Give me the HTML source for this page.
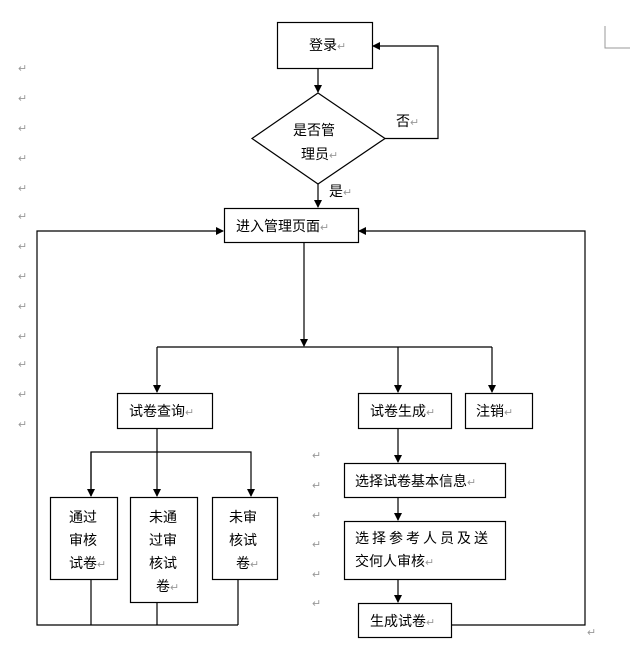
<!DOCTYPE html>
<html><head><meta charset="utf-8"><style>
html,body{margin:0;padding:0;background:#fff;}
svg{display:block;}
text{font-family:"Liberation Sans","Noto Sans CJK SC",sans-serif;font-size:14px;fill:#000;}
.r{fill:#999;font-size:11px;}
</style></head><body>
<svg width="630" height="648" viewBox="0 0 630 648" xmlns="http://www.w3.org/2000/svg">
<defs><marker id="a" markerWidth="8" markerHeight="8" refX="7" refY="4" orient="auto" markerUnits="userSpaceOnUse"><path d="M0,0 L8,4 L0,8 Z" fill="#000"/></marker></defs>
<g stroke="#000" stroke-width="1.2" fill="none">
<rect x="277.5" y="22.5" width="95" height="46"/>
<polygon points="318,93 385,138.5 318,184 252,138.5"/>
<rect x="224.5" y="208.5" width="134" height="34"/>
<rect x="117.5" y="393.5" width="95" height="35"/>
<rect x="358.5" y="393.5" width="93" height="35"/>
<rect x="465.5" y="393.5" width="67" height="35"/>
<rect x="50.5" y="497.5" width="67" height="82"/>
<rect x="130.5" y="497.5" width="67" height="105"/>
<rect x="212.5" y="497.5" width="65" height="82"/>
<rect x="344.5" y="463.5" width="161" height="34"/>
<rect x="344.5" y="521.5" width="161" height="58"/>
<rect x="358.5" y="603.5" width="93" height="34"/>
<line x1="318" y1="68" x2="318" y2="92" marker-end="url(#a)"/>
<polyline points="385,138.5 438,138.5 438,46 373,46" marker-end="url(#a)"/>
<line x1="318" y1="184" x2="318" y2="207" marker-end="url(#a)"/>
<line x1="304" y1="242" x2="304" y2="346" marker-end="url(#a)"/>
<line x1="157" y1="347" x2="492" y2="347"/>
<line x1="157" y1="347" x2="157" y2="392" marker-end="url(#a)"/>
<line x1="398" y1="347" x2="398" y2="392" marker-end="url(#a)"/>
<line x1="492" y1="347" x2="492" y2="392" marker-end="url(#a)"/>
<line x1="157" y1="428" x2="157" y2="496" marker-end="url(#a)"/>
<polyline points="91,496 91,452 251,452 251,496" marker-end="url(#a)"/>
<line x1="91" y1="452" x2="91" y2="496" marker-end="url(#a)"/>
<line x1="398" y1="428" x2="398" y2="462" marker-end="url(#a)"/>
<line x1="398" y1="497" x2="398" y2="520" marker-end="url(#a)"/>
<line x1="398" y1="579" x2="398" y2="602" marker-end="url(#a)"/>
<polyline points="91,579 91,625"/>
<polyline points="157,602 157,625"/>
<polyline points="238,579 238,625"/>
<polyline points="238,625 37,625 37,231 223,231" marker-end="url(#a)"/>
<polyline points="451,625 585,625 585,231 359,231" marker-end="url(#a)"/>
</g>
<g stroke="#999" stroke-width="1" fill="none"><polyline points="605,26 605,48 630,48"/></g>
<text x="309" y="50">登录<tspan class="r">↵</tspan></text>
<text x="293" y="135">是否管</text>
<text x="301" y="159">理员<tspan class="r">↵</tspan></text>
<text x="396" y="126">否<tspan class="r">↵</tspan></text>
<text x="329" y="196">是<tspan class="r">↵</tspan></text>
<text x="236" y="231">进入管理页面<tspan class="r">↵</tspan></text>
<text x="129" y="416">试卷查询<tspan class="r">↵</tspan></text>
<text x="370" y="416">试卷生成<tspan class="r">↵</tspan></text>
<text x="476" y="416">注销<tspan class="r">↵</tspan></text>
<text x="69" y="522">通过</text><text x="69" y="545">审核</text><text x="69" y="568">试卷<tspan class="r">↵</tspan></text>
<text x="149" y="522">未通</text><text x="149" y="545">过审</text><text x="149" y="568">核试</text><text x="156" y="591">卷<tspan class="r">↵</tspan></text>
<text x="229" y="522">未审</text><text x="229" y="545">核试</text><text x="236" y="568">卷<tspan class="r">↵</tspan></text>
<text x="355" y="486">选择试卷基本信息<tspan class="r">↵</tspan></text>
<text x="355" y="543" letter-spacing="3">选择参考人员及送</text>
<text x="355" y="566">交何人审核<tspan class="r">↵</tspan></text>
<text x="370" y="626">生成试卷<tspan class="r">↵</tspan></text>
<g class="r">
<text class="r" x="18" y="72">↵</text><text class="r" x="18" y="102">↵</text><text class="r" x="18" y="132">↵</text><text class="r" x="18" y="162">↵</text><text class="r" x="18" y="192">↵</text><text class="r" x="18" y="220">↵</text><text class="r" x="18" y="250">↵</text><text class="r" x="18" y="280">↵</text><text class="r" x="18" y="310">↵</text><text class="r" x="18" y="340">↵</text><text class="r" x="18" y="368">↵</text><text class="r" x="18" y="398">↵</text><text class="r" x="18" y="428">↵</text>
<text class="r" x="312" y="459">↵</text><text class="r" x="312" y="489">↵</text><text class="r" x="312" y="519">↵</text><text class="r" x="312" y="548">↵</text><text class="r" x="312" y="578">↵</text><text class="r" x="312" y="607">↵</text>
<text class="r" x="587" y="636">↵</text>
</g>
</svg>
</body></html>
